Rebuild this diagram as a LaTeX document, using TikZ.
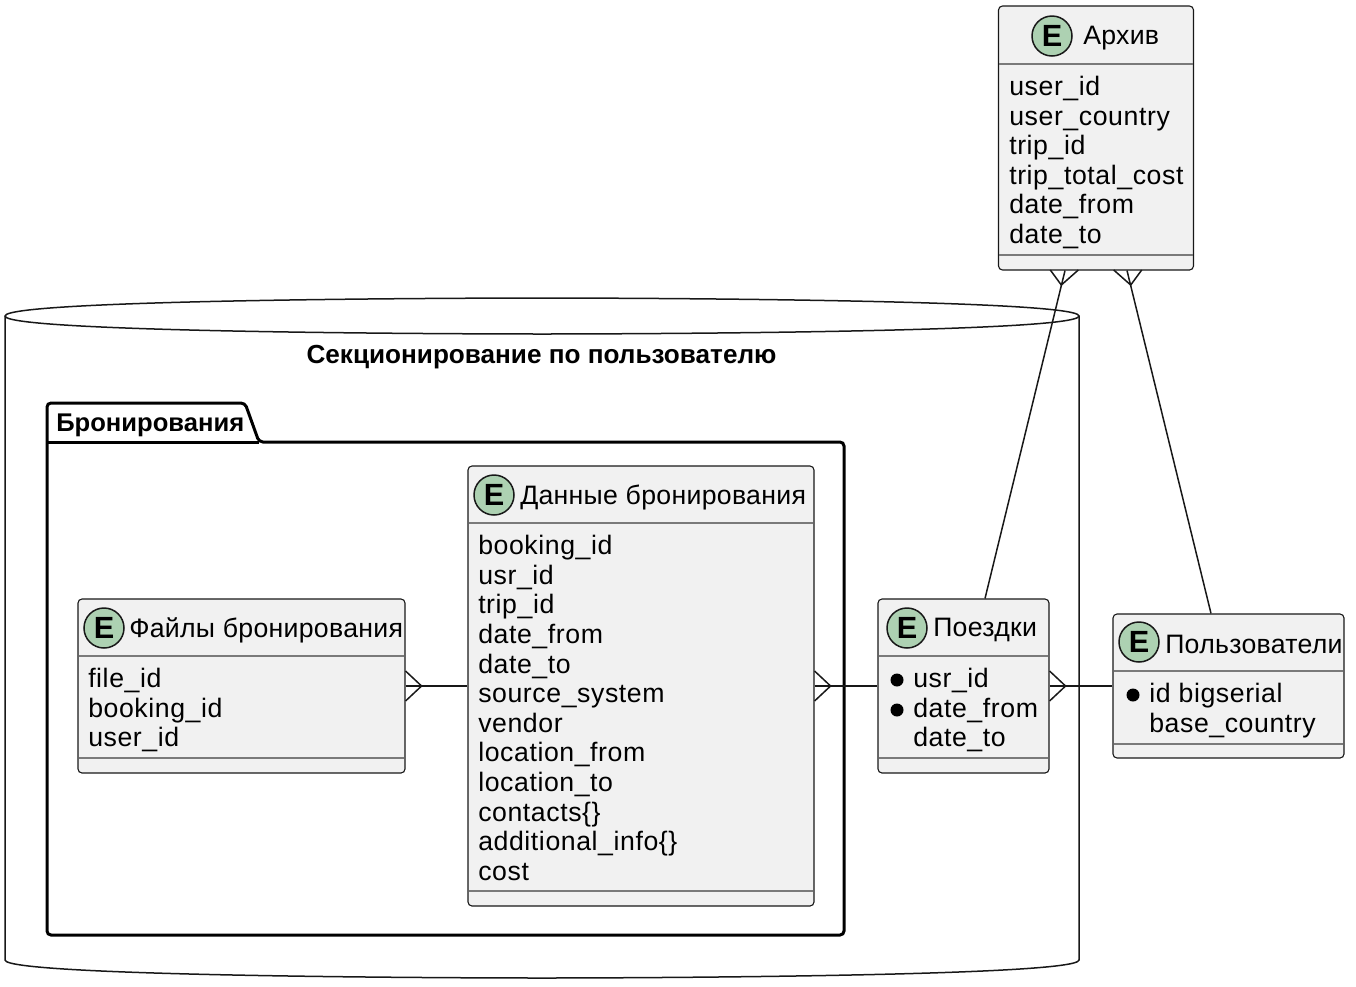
\documentclass[tikz,border=0pt]{standalone}
\usepackage{fontspec}
\setmainfont{Liberation Sans}
\newfontfamily\headfont[LetterSpace=1.1]{Liberation Sans}
\newfontfamily\fieldfont[LetterSpace=2.2]{Liberation Sans}
\usepackage{tikz}
\usetikzlibrary{calc}

\definecolor{boxfill}{HTML}{F1F1F1}
\definecolor{boxline}{HTML}{181818}
\definecolor{sepline}{HTML}{7A7A7A}
\definecolor{spotfill}{HTML}{ADD1B2}

\newcommand{\pxl}{0.75pt}

\tikzset{
    entity/.style={draw=boxline, fill=boxfill, line width=1.1*\pxl, rounded corners=3pt, inner sep=0pt, rectangle},
    spot/.style={draw=boxline, fill=spotfill, line width=1.5*\pxl, circle, minimum size=40*\pxl, inner sep=0pt, font=\fontsize{23}{23}\selectfont\bfseries},
    heading/.style={anchor=west, inner sep=0pt, font=\fontsize{20}{24}\selectfont\headfont},
    fields/.style={anchor=north west, inner sep=0pt, align=left, font=\fontsize{20}{22.2}\selectfont\fieldfont},
    keydot/.style={fill=black, circle, minimum size=13*\pxl, inner sep=0pt},
    rel/.style={draw=boxline, line width=1.5*\pxl},
    sep/.style={draw=sepline, line width=1.5*\pxl},
    footright/.pic={\draw[rel] (0,-15) -- (16,0) -- (0,15);},
    footleftlean/.pic={\draw[rel] (-11,-15) -- (0,0) -- (17,-15);},
    footrightlean/.pic={\draw[rel] (-17,-15) -- (0,0) -- (11,-15);}
}

\begin{document}
\begin{tikzpicture}[x=0.75pt, y=-0.75pt]
    \useasboundingbox (0,0) rectangle (1356,986);

    % database frame
    \draw[boxline, line width=1.5*\pxl] (5,316) .. controls (5,298) and (542,298) .. (542,298) .. controls (542,298) and (1079,298) .. (1079,316)
        -- (1079,960) .. controls (1079,978) and (542,978) .. (542,978) .. controls (542,978) and (5,978) .. (5,960) -- cycle;
    \draw[boxline, line width=1.5*\pxl] (5,316) .. controls (5,334) and (542,334) .. (542,334) .. controls (542,334) and (1079,334) .. (1079,316);
    \node[inner sep=0pt, font=\fontsize{19.6}{22}\selectfont\bfseries] (dbtitle) at (541.5,357) {Секционирование по пользователю};

    % package frame
    \draw[black, line width=3*\pxl, rounded corners=3pt] (47,442) -- (47,403) -- (245,403) -- (259,442) -- (844,442) -- (844,935) -- (47,935) -- cycle;
    \draw[black, line width=3*\pxl] (47,442) -- (259,442);
    \node[inner sep=0pt, anchor=west, font=\fontsize{19.2}{22}\selectfont\bfseries] (pkgtitle) at (56,425) {Бронирования};

    % archive
    \node[entity, minimum width=195*\pxl, minimum height=264*\pxl] (arch) at (1096,138) {};
    \node[spot] (archspot) at (1052,36) {E};
    \node[heading] (archname) at (1083,38) {Архив};
    \draw[sep] (999,64) -- (1193,64);
    \node[fields] (archfields) at (1009,76) {user\_id\\user\_country\\trip\_id\\trip\_total\_cost\\date\_from\\date\_to};
    \draw[sep] (999,255) -- (1193,255);

    % booking data
    \node[entity, minimum width=346*\pxl, minimum height=440*\pxl] (data) at (641,686) {};
    \node[spot] (dataspot) at (494,495) {E};
    \node[heading] (dataname) at (520,497) {Данные бронирования};
    \draw[sep] (469,523) -- (813,523);
    \node[fields] (datafields) at (478,535) {booking\_id\\usr\_id\\trip\_id\\date\_from\\date\_to\\source\_system\\vendor\\location\_from\\location\_to\\contacts\{\}\\additional\_info\{\}\\cost};
    \draw[sep] (469,891) -- (813,891);

    % booking files
    \node[entity, minimum width=327*\pxl, minimum height=174*\pxl] (file) at (241.5,686) {};
    \node[spot] (filespot) at (104,628) {E};
    \node[heading] (filename) at (129,630) {Файлы бронирования};
    \draw[sep] (79,656) -- (404,656);
    \node[fields] (filefields) at (88,668) {file\_id\\booking\_id\\user\_id};
    \draw[sep] (79,758) -- (404,758);

    % trips
    \node[entity, minimum width=171*\pxl, minimum height=174*\pxl] (trips) at (963.5,686) {};
    \node[spot] (tripsspot) at (907,628) {E};
    \node[heading] (tripsname) at (933,630) {Поездки};
    \draw[sep] (879,656) -- (1048,656);
    \node[keydot] (tripsdota) at (897,680) {};
    \node[keydot] (tripsdotb) at (897,710) {};
    \node[fields] (tripsfields) at (913,668) {usr\_id\\date\_from\\date\_to};
    \draw[sep] (879,758) -- (1048,758);

    % users
    \node[entity, minimum width=231*\pxl, minimum height=144*\pxl] (users) at (1228.5,686) {};
    \node[spot] (usersspot) at (1139,642) {E};
    \node[heading] (usersname) at (1165,644) {Пользователи};
    \draw[sep] (1114,671) -- (1343,671);
    \node[keydot] (usersdot) at (1133,695) {};
    \node[fields] (usersfields) at (1149,683) {id bigserial\\base\_country};
    \draw[sep] (1114,744) -- (1343,744);

    % relations
    \draw[rel] (file.east) -- (data.west);
    \pic at (file.east) {footright};
    \draw[rel] (data.east) -- (trips.west);
    \pic at (data.east) {footright};
    \draw[rel] (trips.east) -- (users.west);
    \pic at (trips.east) {footright};
    \draw[rel] ($(arch.south)+(-31,0)$) -- ($(trips.north)+(21.5,0)$);
    \pic at (1061.3,285) {footleftlean};
    \draw[rel] ($(arch.south)+(31,0)$) -- ($(users.north)+(-17.5,0)$);
    \pic at (1130.7,285) {footrightlean};
\end{tikzpicture}
\end{document}
